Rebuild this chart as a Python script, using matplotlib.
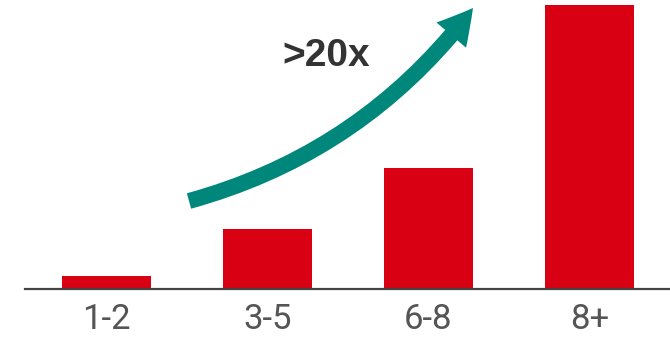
import matplotlib.pyplot as plt
from matplotlib.patches import FancyArrowPatch, ArrowStyle

# years of experience buckets vs relative value
categories = ["1-2", "3-5", "6-8", "8+"]
values = [1.0, 4.65, 9.3, 21.85]
growth_label = ">20x"

bar_color = "#DA0013"
arrow_color = "#00877C"

fig = plt.figure(figsize=(6.7, 3.4), dpi=100)
ax = fig.add_axes([25 / 670, 51 / 340, 645 / 670, 289 / 340])

x = range(len(categories))
ax.bar(x, values, width=0.553, color=bar_color)
ax.set_xlim(-0.506, 3.5)
ax.set_ylim(0, values[-1] * 289 / 284)

ax.set_xticks(list(x))
ax.set_xticklabels(categories, fontsize=25, color="#555555",
                   family=["Roboto", "DejaVu Sans"], fontweight="normal")
ax.tick_params(axis="x", length=0, pad=10)
ax.set_yticks([])
for side in ["top", "right", "left"]:
    ax.spines[side].set_visible(False)
ax.spines["bottom"].set_color("#444444")
ax.spines["bottom"].set_linewidth(1.6)

# curved growth arrow, placed in figure pixels
W, H = 670, 340
start = (189 / W, (H - 201) / H)
end = (473 / W, (H - 8) / H)
style = ArrowStyle("simple", head_length=25, head_width=28, tail_width=11.5)
arrow = FancyArrowPatch(start, end, transform=fig.transFigure,
                        arrowstyle=style, mutation_scale=1,
                        connectionstyle="arc3,rad=0.17",
                        color=arrow_color, shrinkA=0, shrinkB=0, lw=0)
fig.patches.append(arrow)

fig.text(326 / W, (H - 56) / H, growth_label, ha="center", va="center",
         fontsize=28, fontweight="bold", color="#333333",
         family=["Liberation Sans", "DejaVu Sans"])

fig.savefig("out.png", dpi=100)
